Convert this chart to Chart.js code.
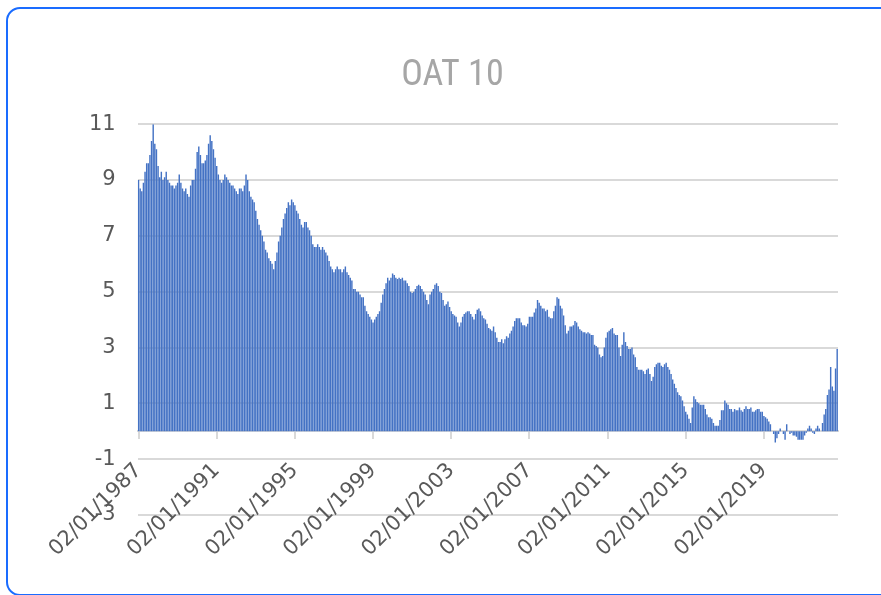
<!DOCTYPE html>
<html>
<head>
<meta charset="utf-8">
<title>OAT 10</title>
<script src="https://cdn.jsdelivr.net/npm/chart.js@4.4.1/dist/chart.umd.min.js"></script>
<style>
    html, body { margin: 0; padding: 0; background: #fff; }
    .wrap { position: relative; width: 881px; height: 595px; overflow: hidden; }
    .frame { position: absolute; left: 6px; top: 7px; width: 886px; height: 585px;
             border: 2.5px solid #1a6cff; border-radius: 14px; pointer-events: none; }
    #myChart { position: absolute; left: 0; top: 0; }
</style>
</head>
<body>
<div class="wrap">
    <canvas id="myChart" width="881" height="595"></canvas>
    <div class="frame"></div>
</div>
<script>
// OAT 10 ans, une valeur par mois, janvier 1987 -> octobre 2022
var startYear = 1987;
var oat10 = [
    9.0, 8.7, 8.6, 8.9, 9.3, 9.6, 9.6, 9.9, 10.4, 11.0, 10.3, 10.1,      // 1987
    9.5, 9.1, 9.3, 9.0, 9.1, 9.3, 9.0, 8.9, 8.8, 8.8, 8.7, 8.8,          // 1988
    8.9, 9.2, 8.9, 8.7, 8.6, 8.7, 8.5, 8.4, 8.8, 9.0, 9.0, 9.4,          // 1989
    10.0, 10.2, 9.9, 9.6, 9.6, 9.7, 9.9, 10.3, 10.6, 10.4, 10.1, 9.8,    // 1990
    9.5, 9.2, 9.0, 8.9, 9.0, 9.2, 9.1, 9.0, 8.9, 8.8, 8.8, 8.7,          // 1991
    8.6, 8.5, 8.7, 8.7, 8.6, 8.8, 9.2, 9.0, 8.6, 8.4, 8.3, 8.2,          // 1992
    7.9, 7.6, 7.4, 7.2, 7.0, 6.8, 6.5, 6.4, 6.2, 6.1, 6.0, 5.8,          // 1993
    6.1, 6.4, 6.8, 7.0, 7.3, 7.6, 7.8, 8.0, 8.2, 8.1, 8.3, 8.2,          // 1994
    8.1, 7.9, 7.8, 7.6, 7.4, 7.3, 7.5, 7.5, 7.3, 7.2, 7.0, 6.7,          // 1995
    6.6, 6.6, 6.7, 6.6, 6.5, 6.6, 6.5, 6.4, 6.3, 6.1, 5.9, 5.8,          // 1996
    5.7, 5.8, 5.9, 5.8, 5.8, 5.7, 5.8, 5.9, 5.7, 5.6, 5.5, 5.4,          // 1997
    5.1, 5.1, 5.0, 5.0, 4.9, 4.8, 4.8, 4.5, 4.3, 4.2, 4.1, 4.0,          // 1998
    3.9, 4.0, 4.1, 4.2, 4.3, 4.6, 4.9, 5.1, 5.3, 5.5, 5.4, 5.5,          // 1999
    5.65, 5.6, 5.5, 5.45, 5.5, 5.45, 5.5, 5.4, 5.4, 5.3, 5.2, 5.0,       // 2000
    4.95, 5.0, 5.1, 5.2, 5.25, 5.2, 5.1, 5.0, 4.9, 4.7, 4.55, 4.9,       // 2001
    5.0, 5.1, 5.25, 5.3, 5.2, 5.0, 4.95, 4.7, 4.5, 4.55, 4.65, 4.45,     // 2002
    4.3, 4.2, 4.15, 4.1, 3.9, 3.75, 3.9, 4.1, 4.2, 4.25, 4.3, 4.3,       // 2003
    4.2, 4.1, 4.0, 4.2, 4.35, 4.4, 4.3, 4.15, 4.05, 4.0, 3.85, 3.7,      // 2004
    3.65, 3.6, 3.75, 3.55, 3.35, 3.2, 3.2, 3.3, 3.15, 3.3, 3.4, 3.35,    // 2005
    3.5, 3.6, 3.75, 3.95, 4.05, 4.05, 4.05, 3.9, 3.8, 3.8, 3.75, 3.85,   // 2006
    4.1, 4.1, 4.1, 4.25, 4.4, 4.7, 4.6, 4.5, 4.4, 4.4, 4.3, 4.35,        // 2007
    4.1, 4.05, 4.05, 4.3, 4.5, 4.8, 4.75, 4.5, 4.4, 4.15, 3.8, 3.5,      // 2008
    3.6, 3.75, 3.75, 3.8, 3.95, 3.9, 3.75, 3.65, 3.6, 3.55, 3.55, 3.5,   // 2009
    3.55, 3.5, 3.45, 3.45, 3.1, 3.05, 3.0, 2.75, 2.65, 2.7, 3.0, 3.35,   // 2010
    3.55, 3.6, 3.65, 3.7, 3.5, 3.45, 3.45, 3.0, 2.7, 3.1, 3.55, 3.2,     // 2011
    3.05, 2.95, 2.95, 3.0, 2.75, 2.65, 2.3, 2.2, 2.2, 2.2, 2.15, 2.05,   // 2012
    2.2, 2.25, 2.05, 1.8, 1.95, 2.3, 2.4, 2.45, 2.45, 2.35, 2.3, 2.4,    // 2013
    2.45, 2.3, 2.2, 2.05, 1.85, 1.7, 1.55, 1.4, 1.3, 1.25, 1.1, 0.9,     // 2014
    0.7, 0.6, 0.45, 0.3, 0.85, 1.25, 1.15, 1.05, 1.0, 0.95, 0.95, 0.95,  // 2015
    0.8, 0.6, 0.5, 0.5, 0.45, 0.3, 0.2, 0.2, 0.2, 0.4, 0.75, 0.75,       // 2016
    1.1, 1.0, 0.95, 0.8, 0.8, 0.7, 0.8, 0.75, 0.75, 0.85, 0.75, 0.7,     // 2017
    0.8, 0.9, 0.8, 0.8, 0.85, 0.7, 0.7, 0.75, 0.8, 0.8, 0.7, 0.7,        // 2018
    0.55, 0.5, 0.45, 0.35, 0.25, 0.0, -0.1, -0.4, -0.25, -0.1, 0.1, 0.0, // 2019
    -0.1, -0.3, 0.25, 0.0, -0.1, -0.05, -0.15, -0.15, -0.2, -0.3, -0.3, -0.3, // 2020
    -0.3, -0.15, -0.05, 0.1, 0.2, 0.1, -0.05, -0.1, 0.1, 0.2, 0.1, 0.0,  // 2021
    0.3, 0.6, 0.8, 1.3, 1.5, 2.3, 1.6, 1.45, 2.25, 2.95                   // 2022
];
var labelEvery = 48;                 // une etiquette tous les 4 ans
var yMin = -3, yMax = 11, yStep = 2;

// dates du type 02/MM/AAAA
var categories = [];
for (var i = 0; i < oat10.length; i++) {
    var m = i % 12 + 1;
    categories.push('02/' + (m < 10 ? '0' + m : m) + '/' + (startYear + Math.floor(i / 12)));
}

var font = "'DejaVu Sans', 'Liberation Sans', sans-serif";
var titleFont = "'Liberation Sans Narrow', 'Roboto Condensed', 'Liberation Sans', sans-serif";
var grey = '#595959', gridCol = '#d9d9d9';

var ctx = document.getElementById('myChart').getContext('2d');
var chart = new Chart(ctx, {
    type: 'bar',
    data: {
        labels: categories,
        datasets: [{
            label: 'OAT 10',
            data: oat10,
            backgroundColor: '#4472c4',
            borderWidth: 0,
            barPercentage: 1,
            categoryPercentage: 0.88
        }]
    },
    options: {
        responsive: false,
        animation: false,
        layout: { padding: { left: 67, right: 43, top: 0, bottom: 80 } },
        plugins: {
            legend: { display: false },
            tooltip: { enabled: false },
            title: {
                display: true,
                text: 'OAT 10',
                color: '#a6a6a6',
                font: { family: titleFont, size: 36, weight: 'normal' },
                padding: { top: 54, bottom: 27 }
            }
        },
        scales: {
            x: {
                position: { y: 0 },
                offset: true,
                afterBuildTicks: function(scale) {
                    scale.ticks = scale.ticks.filter(function(t) { return t.value % labelEvery === 0; });
                },
                afterFit: function(scale) {
                    scale.paddingLeft = 0;
                    scale.paddingRight = 0;
                },
                grid: { display: true, drawOnChartArea: false, drawTicks: true, tickLength: 7,
                        offset: false, color: gridCol, lineWidth: 2 },
                border: { display: true, color: gridCol, width: 2 },
                ticks: {
                    autoSkip: false,
                    maxRotation: 45,
                    minRotation: 45,
                    padding: 20,
                    color: grey,
                    font: { family: font, size: 21 },
                    callback: function(val) { return this.getLabelForValue(val); }
                }
            },
            y: {
                min: yMin,
                max: yMax,
                grid: { color: gridCol, lineWidth: 2, drawTicks: false },
                border: { display: false },
                ticks: {
                    stepSize: yStep,
                    padding: 22,
                    color: grey,
                    font: { family: font, size: 21 }
                }
            }
        }
    }
});
</script>
</body>
</html>
